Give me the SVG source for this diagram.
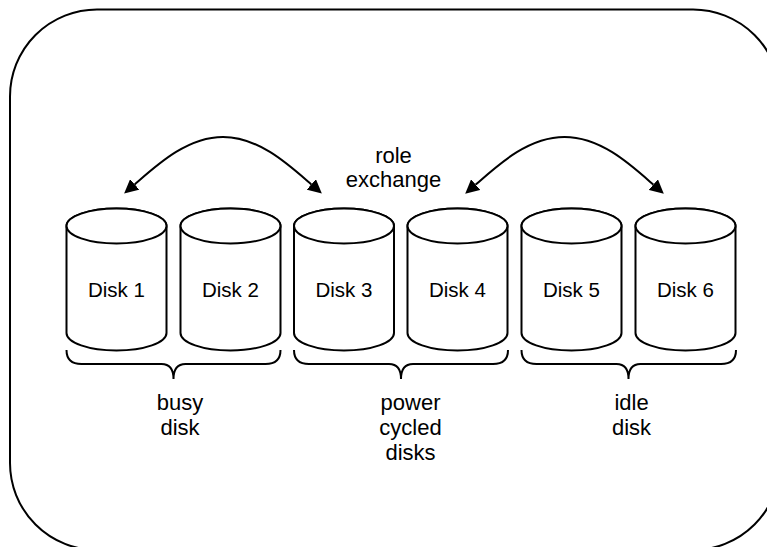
<svg xmlns="http://www.w3.org/2000/svg" width="767" height="547" viewBox="0 0 767 547">
  <style>
    .line { fill: none; stroke: #000; stroke-width: 2; }
    .disk { fill: #fff; stroke: #000; stroke-width: 2; }
    .disk-label { font-family: "Liberation Sans", Arial, sans-serif; font-size: 20.5px; fill: #000; text-anchor: middle; }
    .label { font-family: "Liberation Sans", Arial, sans-serif; font-size: 22px; fill: #000; text-anchor: middle; }
  </style>
  <defs>
    <marker id="head" markerUnits="userSpaceOnUse" viewBox="0 -7 14 14" refX="0" refY="0" markerWidth="14" markerHeight="14" orient="auto-start-reverse">
      <path d="M0,-7 L14,0 L0,7 Z" fill="#000"/>
    </marker>
    <!-- one disk cylinder, 100 wide, origin at top-left -->
    <g id="cyl">
      <path class="disk" d="M0,17.5 L0,124.5 A50,17.5 0 0 0 100,124.5 L100,17.5 A50,17.5 0 0 0 0,17.5 Z"/>
      <ellipse class="disk" cx="50" cy="17.5" rx="50" ry="17.5"/>
    </g>
  </defs>

  <rect width="767" height="547" fill="#fff"/>

  <!-- enclosing rounded frame -->
  <g id="frame">
    <rect class="line" x="10" y="9.5" width="770" height="540.5" rx="87" ry="87"/>
  </g>

  <!-- disks -->
  <g id="disk1"><use href="#cyl" x="66.5" y="208.5"/><text class="disk-label" x="116.5" y="297">Disk 1</text></g>
  <g id="disk2"><use href="#cyl" x="180.5" y="208.5"/><text class="disk-label" x="230.5" y="297">Disk 2</text></g>
  <g id="disk3"><use href="#cyl" x="294" y="208.5"/><text class="disk-label" x="344" y="297">Disk 3</text></g>
  <g id="disk4"><use href="#cyl" x="407.5" y="208.5"/><text class="disk-label" x="457.5" y="297">Disk 4</text></g>
  <g id="disk5"><use href="#cyl" x="521.5" y="208.5"/><text class="disk-label" x="571.5" y="297">Disk 5</text></g>
  <g id="disk6"><use href="#cyl" x="635.5" y="208.5"/><text class="disk-label" x="685.5" y="297">Disk 6</text></g>

  <!-- role exchange arrows -->
  <g id="connectors">
    <path class="line" marker-start="url(#head)" marker-end="url(#head)" d="M134.7,184.4 C157,165 187,137 223,137 C259,137 289,165 311.3,184.4"/>
    <path class="line" marker-start="url(#head)" marker-end="url(#head)" d="M475.7,184.6 C498,165 528,137 564.5,137 C601,137 631,165 653.3,184.6"/>
  </g>

  <g id="role-exchange">
    <text class="label" x="393.5" y="163">role</text>
    <text class="label" x="393.5" y="187">exchange</text>
  </g>

  <!-- group braces -->
  <g id="brace-busy">
    <path class="line" d="M66.5,350 Q66.5,364 81.5,364 L161.5,364 Q173.5,364 173.5,379 Q173.5,364 185.5,364 L265.5,364 Q280.5,364 280.5,350"/>
    <text class="label" x="180" y="410">busy</text>
    <text class="label" x="180" y="435">disk</text>
  </g>
  <g id="brace-cycled">
    <path class="line" d="M294,350 Q294,364 309,364 L389,364 Q401,364 401,379 Q401,364 413,364 L493,364 Q508,364 508,350"/>
    <text class="label" x="410.5" y="410">power</text>
    <text class="label" x="410.5" y="435">cycled</text>
    <text class="label" x="410.5" y="460">disks</text>
  </g>
  <g id="brace-idle">
    <path class="line" d="M521.5,350 Q521.5,364 536.5,364 L616.5,364 Q628.5,364 628.5,379 Q628.5,364 640.5,364 L721,364 Q736,364 736,350"/>
    <text class="label" x="631.5" y="410">idle</text>
    <text class="label" x="631.5" y="435">disk</text>
  </g>
</svg>
